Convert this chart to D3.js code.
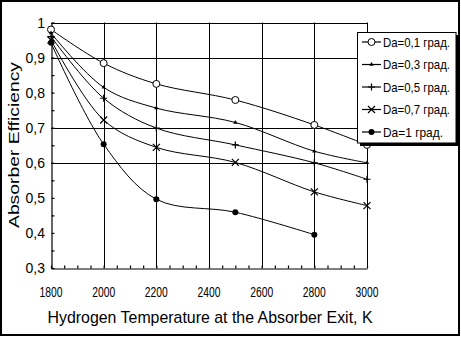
<!DOCTYPE html>
<html>
<head>
<meta charset="utf-8">
<script src="https://cdn.jsdelivr.net/npm/d3@7"></script>
<style>
  body { margin: 0; background: #fff; }
  svg { display: block; font-family: "Liberation Sans", Arial, sans-serif; }
</style>
</head>
<body>
<div id="chart"></div>
<script>
// temperatures (K) at which each series was measured
var temps = [1800, 2000, 2200, 2500, 2800, 3000];
var tempsDa1 = [1800, 2000, 2200, 2500, 2800];

// absorber efficiency per divergence angle
var da01 = [0.98, 0.884, 0.825, 0.779, 0.708, 0.651];
var da03 = [0.97, 0.815, 0.756, 0.715, 0.633, 0.600];
var da05 = [0.96, 0.784, 0.699, 0.651, 0.600, 0.553];
var da07 = [0.95, 0.722, 0.644, 0.601, 0.517, 0.478];
var da1 = [0.942, 0.653, 0.496, 0.459, 0.395];

var seriesNames = ["Da=0,1 град.", "Da=0,3 град.", "Da=0,5 град.", "Da=0,7 град.", "Da=1 град."];
var markerTypes = ["circle", "triangle", "plus", "cross", "dot"];

var xTicks = [1800, 2000, 2200, 2400, 2600, 2800, 3000];
var yTicks = [0.3, 0.4, 0.5, 0.6, 0.7, 0.8, 0.9, 1];
var yGrid = [0.9, 0.7, 0.6];
var xLabel = "Hydrogen Temperature at the Absorber Exit, K";
var yLabel = "Absorber Efficiency";

var W = 461, H = 337;

var svg = d3.select("#chart").append("svg")
    .attr("width", W)
    .attr("height", H);

svg.append("rect")
    .attr("width", W).attr("height", H)
    .attr("fill", "#fff");

// outer frame
svg.append("rect")
    .attr("x", 1).attr("y", 1)
    .attr("width", 458).attr("height", 334)
    .attr("fill", "none")
    .attr("stroke", "#000")
    .attr("stroke-width", 2);

var x = d3.scaleLinear().domain([1800, 3000]).range([51, 367]);
var y = d3.scaleLinear().domain([0.3, 1]).range([268, 22.5]);

// grid
var grid = svg.append("g").attr("stroke", "#000").attr("stroke-width", 1);
grid.selectAll(".vg").data(xTicks.slice(1))
  .enter().append("line")
    .attr("x1", function(d) { return Math.round(x(d)) + 0.5; })
    .attr("x2", function(d) { return Math.round(x(d)) + 0.5; })
    .attr("y1", y(1)).attr("y2", y(0.3));
grid.selectAll(".hg").data(yGrid.concat([1]))
  .enter().append("line")
    .attr("y1", function(d) { return Math.round(y(d)) + 0.5; })
    .attr("y2", function(d) { return Math.round(y(d)) + 0.5; })
    .attr("x1", x(1800)).attr("x2", x(3000));

// axes
var xAxis = d3.axisBottom(x)
    .tickValues(d3.range(1800, 3001, 50))
    .tickSizeInner(-3).tickSizeOuter(0)
    .tickFormat("");
var yAxis = d3.axisLeft(y)
    .tickValues(d3.range(0.3, 1.001, 0.05))
    .tickSizeInner(-3).tickSizeOuter(0)
    .tickFormat("");

svg.append("g")
    .attr("class", "x-axis")
    .attr("transform", "translate(0," + (Math.round(y(0.3)) + 0.5) + ")")
    .call(xAxis);
svg.append("g")
    .attr("class", "y-axis")
    .attr("transform", "translate(" + (Math.round(x(1800)) + 0.5) + ",0)")
    .call(yAxis);
svg.selectAll(".x-axis path, .y-axis path, .x-axis line, .y-axis line")
    .attr("stroke", "#000").attr("stroke-width", 1.2);

// tick labels
svg.selectAll(".xl").data(xTicks)
  .enter().append("text")
    .attr("x", function(d) { return x(d); })
    .attr("y", 297)
    .attr("text-anchor", "middle")
    .attr("font-size", 14)
    .attr("textLength", 23)
    .attr("lengthAdjust", "spacingAndGlyphs")
    .text(function(d) { return d; });

svg.selectAll(".yl").data(yTicks)
  .enter().append("text")
    .attr("x", 45)
    .attr("y", function(d) { return y(d) + 5; })
    .attr("text-anchor", "end")
    .attr("font-size", 14)
    .text(function(d) { return d === 1 ? "1" : d3.format(".1f")(d).replace(".", ","); });

svg.append("text")
    .attr("x", 210).attr("y", 323)
    .attr("text-anchor", "middle")
    .attr("font-size", 17)
    .attr("textLength", 325)
    .attr("lengthAdjust", "spacingAndGlyphs")
    .text(xLabel);

svg.append("text")
    .attr("transform", "translate(19,145) rotate(-90)")
    .attr("text-anchor", "middle")
    .attr("font-size", 15)
    .attr("textLength", 166)
    .attr("lengthAdjust", "spacingAndGlyphs")
    .text(yLabel);

// series
var series = [
  { xs: temps, ys: da01 },
  { xs: temps, ys: da03 },
  { xs: temps, ys: da05 },
  { xs: temps, ys: da07 },
  { xs: tempsDa1, ys: da1 }
];

var line = d3.line()
    .x(function(d) { return x(d[0]); })
    .y(function(d) { return y(d[1]); })
    .curve(d3.curveCatmullRom.alpha(0.5));

function drawMarker(g, type, cx, cy) {
  if (type === "circle") {
    g.append("circle").attr("cx", cx).attr("cy", cy).attr("r", 3.5)
      .attr("fill", "#fff").attr("stroke", "#000").attr("stroke-width", 1);
  } else if (type === "dot") {
    g.append("circle").attr("cx", cx).attr("cy", cy).attr("r", 3)
      .attr("fill", "#000");
  } else if (type === "triangle") {
    g.append("path")
      .attr("d", d3.symbol().type(d3.symbolTriangle).size(8))
      .attr("transform", "translate(" + cx + "," + cy + ")")
      .attr("fill", "#000");
  } else if (type === "plus") {
    g.append("path")
      .attr("d", "M" + (cx - 3.5) + "," + cy + "H" + (cx + 3.5) + "M" + cx + "," + (cy - 3.5) + "V" + (cy + 3.5))
      .attr("stroke", "#000").attr("stroke-width", 1.2);
  } else if (type === "cross") {
    g.append("path")
      .attr("d", "M" + (cx - 3.5) + "," + (cy - 3.5) + "L" + (cx + 3.5) + "," + (cy + 3.5) +
                 "M" + (cx - 3.5) + "," + (cy + 3.5) + "L" + (cx + 3.5) + "," + (cy - 3.5))
      .attr("stroke", "#000").attr("stroke-width", 1.2);
  }
}

var plot = svg.append("g");
series.forEach(function(s, i) {
  var pts = s.xs.map(function(t, j) { return [t, s.ys[j]]; });
  plot.append("path")
      .datum(pts)
      .attr("d", line)
      .attr("fill", "none")
      .attr("stroke", "#000")
      .attr("stroke-width", 1);
});
series.forEach(function(s, i) {
  s.xs.forEach(function(t, j) {
    drawMarker(plot, markerTypes[i], x(t), y(s.ys[j]));
  });
});

// legend
var legend = svg.append("g");
legend.append("rect")
    .attr("x", 360).attr("y", 35)
    .attr("width", 99).attr("height", 111)
    .attr("fill", "#000");
legend.append("rect")
    .attr("x", 357.5).attr("y", 32.5)
    .attr("width", 98.5).attr("height", 110.5)
    .attr("fill", "#fff")
    .attr("stroke", "#000")
    .attr("stroke-width", 1);

seriesNames.forEach(function(name, i) {
  var ly = 42 + i * 22.5;
  legend.append("line")
      .attr("x1", 362).attr("x2", 381)
      .attr("y1", ly).attr("y2", ly)
      .attr("stroke", "#000").attr("stroke-width", 1.2);
  drawMarker(legend, markerTypes[i], 371.5, ly);
  legend.append("text")
      .attr("x", 383).attr("y", ly + 4.5)
      .attr("font-size", 13)
      .attr("textLength", name.length > 11 ? 67 : 60)
      .attr("lengthAdjust", "spacingAndGlyphs")
      .text(name);
});
</script>
</body>
</html>
